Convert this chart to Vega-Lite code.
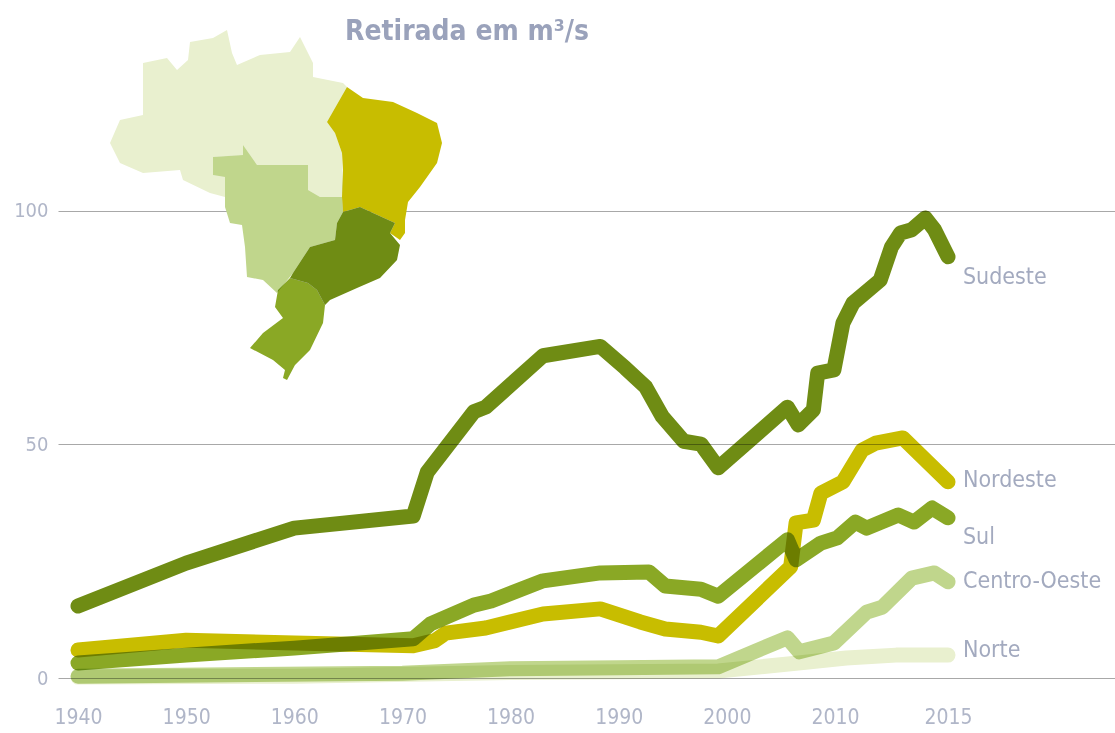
{"$schema":"https://vega.github.io/schema/vega-lite/v6.json","autosize":"none","width":1057,"height":683,"padding":{"left":58,"top":0,"right":0,"bottom":50},"background":"#ffffff","view":{"stroke":null},
"title":{"text":"Retirada em m³/s","anchor":"start","frame":"group","dx":287,"offset":-46,"font":"DejaVu Sans Condensed, Roboto","fontSize":28,"fontWeight":"bold","color":"#9aa2bb"},
"config":{"font":"DejaVu Sans Condensed, Roboto"},
"layer":[
{"data":{"values":{"type":"FeatureCollection","features":[
{"type":"Feature","properties":{"regiao":"Norte"},"geometry":{"type":"Polygon","coordinates":[[[-74,-9.125],[-72.75,-6.25],[-69.875,-5.625],[-69.875,0.875],[-66.875,1.5],[-65.625,0],[-64.25,1.25],[-64,3.5],[-61.125,4],[-59.375,5],[-58.75,2.125],[-58.125,0.625],[-55.25,1.875],[-51.5,2.25],[-50.25,4.125],[-48.625,0.875],[-48.625,-0.875],[-44.875,-1.625],[-44.375,-2.125],[-46.875,-6.5],[-45.875,-7.875],[-45,-10.375],[-44.875,-14.625],[-45,-15.875],[-47.75,-15.875],[-49.25,-15],[-49.25,-11.875],[-55.625,-11.875],[-57.375,-9.375],[-57.375,-10.625],[-61.125,-10.875],[-61.125,-13.125],[-59.625,-13.375],[-59.625,-15.875],[-61.5,-15.375],[-64.875,-13.75],[-65.25,-12.5],[-69.875,-12.875],[-72.75,-11.625],[-74,-9.125]]]}},
{"type":"Feature","properties":{"regiao":"Centro-Oeste"},"geometry":{"type":"Polygon","coordinates":[[[-61.125,-10.875],[-57.375,-10.625],[-57.375,-9.375],[-55.625,-11.875],[-49.25,-11.875],[-49.25,-15],[-47.75,-15.875],[-45,-15.875],[-44.875,-17.75],[-45.625,-19.125],[-45.875,-21.25],[-49,-22.125],[-51.125,-25.375],[-53.125,-27.875],[-54.875,-26.25],[-56.875,-25.875],[-57.125,-22.125],[-57.5,-19.375],[-59,-19.125],[-59.625,-17.125],[-59.625,-13.375],[-61.125,-13.125],[-61.125,-10.875]]]}},
{"type":"Feature","properties":{"regiao":"Nordeste"},"geometry":{"type":"Polygon","coordinates":[[[-44.375,-2.125],[-42.375,-3.5],[-38.625,-4],[-35.625,-5.375],[-33.125,-6.625],[-32.5,-9.125],[-33.125,-11.625],[-35.25,-14.625],[-36.75,-16.5],[-37.125,-18.75],[-37.125,-20.375],[-37.75,-21.25],[-39,-20.375],[-38.375,-19.125],[-41.125,-17.875],[-42.75,-17.125],[-44.875,-17.75],[-45,-15.875],[-44.875,-12.5],[-45,-10.375],[-45.875,-7.875],[-46.875,-6.5],[-44.375,-2.125]]]}},
{"type":"Feature","properties":{"regiao":"Sudeste"},"geometry":{"type":"Polygon","coordinates":[[[-44.875,-17.75],[-42.75,-17.125],[-41.125,-17.875],[-38.375,-19.125],[-39,-20.375],[-37.75,-21.875],[-38.125,-23.75],[-40.25,-26],[-43.125,-27.25],[-46.5,-28.75],[-47.125,-29.375],[-48.125,-27.5],[-49.25,-26.625],[-51.5,-26],[-51.125,-25.375],[-49,-22.125],[-45.875,-21.25],[-45.625,-19.125],[-44.875,-17.75]]]}},
{"type":"Feature","properties":{"regiao":"Sul"},"geometry":{"type":"Polygon","coordinates":[[[-51.5,-26],[-49.25,-26.625],[-48.125,-27.5],[-47.125,-29.375],[-47.375,-31.625],[-49,-35],[-50.875,-36.875],[-51.875,-38.75],[-52.375,-38.5],[-52.125,-37.5],[-53.625,-36.25],[-56.5,-34.75],[-54.875,-32.875],[-52.375,-31],[-53.375,-29.625],[-53,-27.5],[-51.5,-26]]]}}
]},"format":{"type":"json","property":"features"}},
"projection":{"type":"equirectangular","scale":458.366,"translate":[644,70]},
"mark":{"type":"geoshape","blend":"multiply","stroke":null},
"encoding":{"color":{"field":"properties.regiao","type":"nominal","legend":null,"scale":{"domain":["Norte","Centro-Oeste","Nordeste","Sul","Sudeste"],"range":["#e9f0cf","#c0d68c","#c8bd00","#8aa825","#6f8c14"]}}}},
{"data":{"values":[
{"regiao":"Norte","ano":1940,"valor":0.2},{"regiao":"Norte","ano":1960,"valor":0.4},{"regiao":"Norte","ano":1980,"valor":1.2},{"regiao":"Norte","ano":1999.2,"valor":1.5},{"regiao":"Norte","ano":2006.6,"valor":3.2},{"regiao":"Norte","ano":2010.5,"valor":4.3},{"regiao":"Norte","ano":2012.7,"valor":4.9},{"regiao":"Norte","ano":2015,"valor":4.9},
{"regiao":"Centro-Oeste","ano":1940,"valor":0.4},{"regiao":"Centro-Oeste","ano":1970,"valor":1},{"regiao":"Centro-Oeste","ano":1980,"valor":2},{"regiao":"Centro-Oeste","ano":1990,"valor":2.2},{"regiao":"Centro-Oeste","ano":1999.2,"valor":2.4},{"regiao":"Centro-Oeste","ano":2005.6,"valor":8.6},{"regiao":"Centro-Oeste","ano":2006.7,"valor":5.6},{"regiao":"Centro-Oeste","ano":2009.9,"valor":7.5},{"regiao":"Centro-Oeste","ano":2011.4,"valor":14.1},{"regiao":"Centro-Oeste","ano":2012.1,"valor":15.2},{"regiao":"Centro-Oeste","ano":2013.4,"valor":21.4},{"regiao":"Centro-Oeste","ano":2014.4,"valor":22.5},{"regiao":"Centro-Oeste","ano":2015,"valor":20.6},
{"regiao":"Nordeste","ano":1940,"valor":6},{"regiao":"Nordeste","ano":1950,"valor":8.1},{"regiao":"Nordeste","ano":1960,"valor":7.5},{"regiao":"Nordeste","ano":1971,"valor":6.9},{"regiao":"Nordeste","ano":1973,"valor":8},{"regiao":"Nordeste","ano":1974,"valor":9.6},{"regiao":"Nordeste","ano":1977.7,"valor":10.7},{"regiao":"Nordeste","ano":1983,"valor":13.7},{"regiao":"Nordeste","ano":1988.3,"valor":14.8},{"regiao":"Nordeste","ano":1992,"valor":12},{"regiao":"Nordeste","ano":1994.3,"valor":10.5},{"regiao":"Nordeste","ano":1997.6,"valor":9.8},{"regiao":"Nordeste","ano":1999.2,"valor":9},{"regiao":"Nordeste","ano":2005.9,"valor":23.8},{"regiao":"Nordeste","ano":2006.4,"valor":33.2},{"regiao":"Nordeste","ano":2008,"valor":33.8},{"regiao":"Nordeste","ano":2008.7,"valor":39.6},{"regiao":"Nordeste","ano":2010.35,"valor":42},{"regiao":"Nordeste","ano":2011.2,"valor":48.8},{"regiao":"Nordeste","ano":2011.8,"valor":50.3},{"regiao":"Nordeste","ano":2013,"valor":51.4},{"regiao":"Nordeste","ano":2015,"valor":42},
{"regiao":"Sul","ano":1940,"valor":3.2},{"regiao":"Sul","ano":1950,"valor":4.9},{"regiao":"Sul","ano":1960,"valor":6.4},{"regiao":"Sul","ano":1971,"valor":8.4},{"regiao":"Sul","ano":1972.6,"valor":11.6},{"regiao":"Sul","ano":1976.6,"valor":15.6},{"regiao":"Sul","ano":1978.2,"valor":16.5},{"regiao":"Sul","ano":1983,"valor":20.8},{"regiao":"Sul","ano":1988.3,"valor":22.5},{"regiao":"Sul","ano":1992.8,"valor":22.7},{"regiao":"Sul","ano":1994.3,"valor":19.7},{"regiao":"Sul","ano":1997.6,"valor":19},{"regiao":"Sul","ano":1999.2,"valor":17.5},{"regiao":"Sul","ano":2005.6,"valor":29.6},{"regiao":"Sul","ano":2006.4,"valor":25.3},{"regiao":"Sul","ano":2008.7,"valor":28.9},{"regiao":"Sul","ano":2010.1,"valor":30},{"regiao":"Sul","ano":2010.9,"valor":33.4},{"regiao":"Sul","ano":2011.4,"valor":32.1},{"regiao":"Sul","ano":2012.8,"valor":34.9},{"regiao":"Sul","ano":2013.5,"valor":33.4},{"regiao":"Sul","ano":2014.3,"valor":36.4},{"regiao":"Sul","ano":2015,"valor":34.3},
{"regiao":"Sudeste","ano":1940,"valor":15.4},{"regiao":"Sudeste","ano":1950,"valor":24.6},{"regiao":"Sudeste","ano":1960,"valor":32.1},{"regiao":"Sudeste","ano":1971,"valor":34.7},{"regiao":"Sudeste","ano":1972.3,"valor":44.1},{"regiao":"Sudeste","ano":1976.6,"valor":57},{"regiao":"Sudeste","ano":1977.7,"valor":58},{"regiao":"Sudeste","ano":1983,"valor":69},{"regiao":"Sudeste","ano":1988.3,"valor":71},{"regiao":"Sudeste","ano":1990.6,"valor":66.4},{"regiao":"Sudeste","ano":1992.5,"valor":62.3},{"regiao":"Sudeste","ano":1994,"valor":56.1},{"regiao":"Sudeste","ano":1996,"valor":50.7},{"regiao":"Sudeste","ano":1997.6,"valor":50.1},{"regiao":"Sudeste","ano":1999.2,"valor":45},{"regiao":"Sudeste","ano":2005.6,"valor":58},{"regiao":"Sudeste","ano":2006.6,"valor":54.2},{"regiao":"Sudeste","ano":2008,"valor":57.4},{"regiao":"Sudeste","ano":2008.4,"valor":65.3},{"regiao":"Sudeste","ano":2009.9,"valor":66},{"regiao":"Sudeste","ano":2010.35,"valor":76},{"regiao":"Sudeste","ano":2010.8,"valor":80.3},{"regiao":"Sudeste","ano":2012,"valor":85.2},{"regiao":"Sudeste","ano":2012.5,"valor":92.3},{"regiao":"Sudeste","ano":2012.9,"valor":95.3},{"regiao":"Sudeste","ano":2013.4,"valor":96},{"regiao":"Sudeste","ano":2014,"valor":98.5},{"regiao":"Sudeste","ano":2014.4,"valor":96},{"regiao":"Sudeste","ano":2015,"valor":90.2}
]},
"mark":{"type":"line","strokeWidth":15,"strokeCap":"round","strokeJoin":"round","blend":"multiply","clip":false},
"encoding":{
"x":{"field":"ano","type":"quantitative","scale":{"domain":[1938.15,2010,2015,2022.26],"range":[0,777,890,1057],"nice":false,"zero":false,"clamp":false},"axis":{"values":[1940,1950,1960,1970,1980,1990,2000,2010,2015],"title":null,"grid":false,"domain":false,"ticks":false,"format":"d","labelFontSize":21,"labelColor":"#b0b6c8","labelPadding":23,"labelFont":"DejaVu Sans Condensed, Roboto","labelFlush":false,"labelOverlap":false}},
"y":{"field":"valor","type":"quantitative","scale":{"domain":[-1.07,145.18],"nice":false,"zero":false},"axis":{"values":[0,50,100],"title":null,"grid":true,"gridColor":"#a8a8a8","gridWidth":1,"domain":false,"ticks":false,"labelFontSize":20,"labelColor":"#b0b6c8","labelPadding":10,"labelFont":"DejaVu Sans Condensed, Roboto"}},
"color":{"field":"regiao","type":"nominal","legend":null},
"order":{"field":"ano","type":"quantitative"}}},
{"data":{"values":[
{"regiao":"Sudeste","ano":2015.65,"valor":85.9},{"regiao":"Nordeste","ano":2015.65,"valor":42.4},{"regiao":"Sul","ano":2015.65,"valor":30.2},{"regiao":"Centro-Oeste","ano":2015.65,"valor":20.8},{"regiao":"Norte","ano":2015.65,"valor":6}]},
"mark":{"type":"text","align":"left","baseline":"middle","fontSize":23,"font":"DejaVu Sans Condensed, Roboto","color":"#a3aabf"},
"encoding":{"x":{"field":"ano","type":"quantitative"},"y":{"field":"valor","type":"quantitative"},"text":{"field":"regiao","type":"nominal"}}}
]}
